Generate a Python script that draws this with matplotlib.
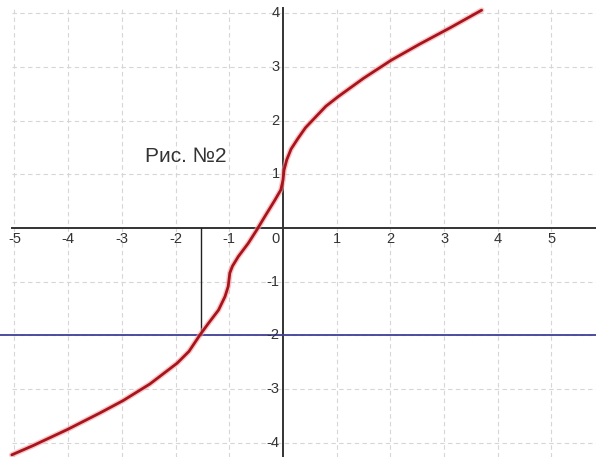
import matplotlib
matplotlib.use("Agg")
import matplotlib.pyplot as plt

plt.rcParams["font.family"] = ["Liberation Sans", "DejaVu Sans"]

# curve sampled along its length
curve_x = [-5.05, -4.66, -4.02, -3.41, -2.98, -2.48, -1.97, -1.75, -1.55,
           -1.39, -1.20, -1.08, -1.02, -0.99, -0.94, -0.83, -0.65, -0.49,
           -0.34, -0.15, -0.04, 0.0, 0.02, 0.07, 0.15, 0.28, 0.42, 0.60,
           0.80, 1.03, 1.50, 2.02, 2.55, 3.11, 3.70]
curve_y = [-4.23, -4.06, -3.76, -3.45, -3.22, -2.91, -2.52, -2.30, -2.0,
           -1.78, -1.53, -1.28, -1.09, -0.84, -0.71, -0.53, -0.29, -0.04,
           0.21, 0.52, 0.71, 0.89, 1.08, 1.27, 1.47, 1.67, 1.87, 2.06,
           2.27, 2.45, 2.79, 3.13, 3.43, 3.73, 4.06]

level_y = -2.0          # horizontal level line
root_x = -1.53          # where the curve meets the level
x_ticks = [-5, -4, -3, -2, -1, 0, 1, 2, 3, 4, 5]
y_ticks = [-4, -3, -2, -1, 1, 2, 3, 4]
caption = "Рис. №2"

x_lo, x_hi = -5.27, 5.83
y_lo, y_hi = -4.27, 4.25
x_start, y_top = -5.05, 4.1

fig = plt.figure(figsize=(5.96, 4.57), dpi=100)
ax = fig.add_axes([0, 0, 1, 1])
ax.set_xlim(x_lo, x_hi)
ax.set_ylim(y_lo, y_hi)
ax.axis("off")

# dashed grid
grid_kw = dict(color="#d6d6d6", linewidth=0.8, linestyles=(0, (4, 3)), zorder=1)
ax.vlines([t for t in x_ticks if t != 0], y_lo, y_top, **grid_kw)
ax.hlines(y_ticks, x_start, x_hi, **grid_kw)

# axes through the origin
ax.plot([x_start, x_hi], [0, 0], color="#333333", linewidth=1.4, zorder=2)
ax.plot([0, 0], [y_lo, y_top], color="#333333", linewidth=1.4, zorder=2)

# level line and drop line
ax.axhline(level_y, color="#3f3f95", linewidth=1.3, zorder=3)
ax.plot([root_x, root_x], [0, level_y], color="#222222", linewidth=1.0, zorder=3)

# curve with soft halo
ax.plot(curve_x, curve_y, color="#f4a0a0", linewidth=4.0, alpha=0.6,
        solid_capstyle="round", solid_joinstyle="round", zorder=4)
ax.plot(curve_x, curve_y, color="#a8141e", linewidth=2.0,
        solid_capstyle="round", solid_joinstyle="round", zorder=5)

# tick labels
for t in x_ticks:
    xp = -0.14 if t == 0 else t
    ax.text(xp, -0.21, str(t), ha="center", va="center", fontsize=10.5,
            color="#333333", zorder=6)
for t in y_ticks:
    ax.text(-0.06, t, str(t), ha="right", va="center", fontsize=10.5,
            color="#333333", zorder=6)

ax.text(-2.57, 1.23, caption, ha="left", va="baseline", fontsize=15,
        color="#333333", zorder=6)

fig.savefig("out.png", dpi=100, facecolor="white")
